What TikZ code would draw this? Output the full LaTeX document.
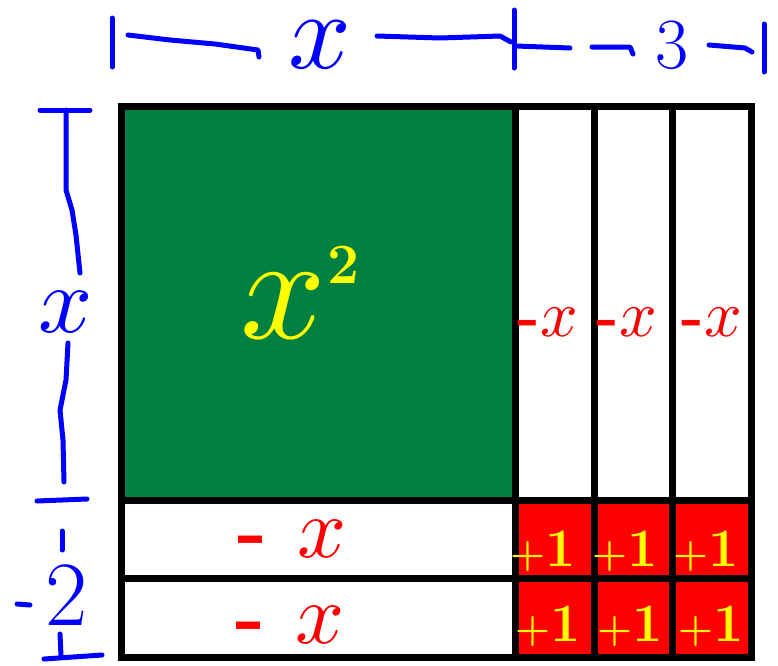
\documentclass[tikz,border=0pt]{standalone}
\usepackage{graphicx}
\definecolor{tilegreen}{RGB}{0,128,64}
\definecolor{tilered}{RGB}{255,0,0}
\definecolor{tileyellow}{RGB}{255,255,0}
\definecolor{penblue}{RGB}{0,0,255}
\newcommand{\fs}[1]{\fontsize{#1}{#1}\selectfont}
\newcommand{\bigx}[1]{\scalebox{#1}{$x$}}
\begin{document}
\begin{tikzpicture}[x=1pt,y=-1pt,
  cell/.style={draw=black, line width=7pt, inner sep=0pt, outer sep=0pt},
  hand/.style={draw=penblue, line width=5pt, line cap=round, line join=round},
  bluetxt/.style={text=penblue, inner sep=0pt, anchor=base},
  redtxt/.style={text=tilered, inner sep=0pt, anchor=base},
  yeltxt/.style={text=tileyellow, inner sep=0pt, anchor=base}]
\useasboundingbox (0,0) rectangle (778,665);
% tiles
\node[cell, fill=tilegreen, minimum width=394pt, minimum height=394pt] (sq) at (318,303) {};
\node[cell, fill=white, minimum width=79pt, minimum height=394pt] (c1) at (554.5,303) {};
\node[cell, fill=white, minimum width=78pt, minimum height=394pt] (c2) at (633,303) {};
\node[cell, fill=white, minimum width=79pt, minimum height=394pt] (c3) at (711.5,303) {};
\node[cell, fill=white, minimum width=394pt, minimum height=78pt] (r1) at (318,539) {};
\node[cell, fill=white, minimum width=394pt, minimum height=79pt] (r2) at (318,617.5) {};
\node[cell, fill=tilered, minimum width=79pt, minimum height=78pt] (u11) at (554.5,539) {};
\node[cell, fill=tilered, minimum width=78pt, minimum height=78pt] (u12) at (633,539) {};
\node[cell, fill=tilered, minimum width=79pt, minimum height=78pt] (u13) at (711.5,539) {};
\node[cell, fill=tilered, minimum width=79pt, minimum height=79pt] (u21) at (554.5,617.5) {};
\node[cell, fill=tilered, minimum width=78pt, minimum height=79pt] (u22) at (633,617.5) {};
\node[cell, fill=tilered, minimum width=79pt, minimum height=79pt] (u23) at (711.5,617.5) {};
% tile texts
\node[yeltxt] (tsq) at (300,338) {\bigx{15}\hspace{2pt}\raisebox{55pt}{\fs{57}\bfseries 2}};
\node[redtxt] (tc1) at (548,336) {{\fs{60}\bfseries -}\bigx{6.6}};
\node[redtxt] (tc2) at (627,336) {{\fs{60}\bfseries -}\bigx{6.6}};
\node[redtxt] (tc3) at (712,336) {{\fs{60}\bfseries -}\bigx{6.6}};
\node[redtxt] (tr1) at (292,557) {{\fs{80}\bfseries -}\hspace{30pt}\bigx{8.6}};
\node[redtxt] (tr2) at (290,643) {{\fs{80}\bfseries -}\hspace{30pt}\bigx{8.6}};
\node[yeltxt] (t11) at (543,566) {\fs{40}\bfseries +\fs{54}1};
\node[yeltxt] (t12) at (625,566) {\fs{40}\bfseries +\fs{54}1};
\node[yeltxt] (t13) at (706,566) {\fs{40}\bfseries +\fs{54}1};
\node[yeltxt] (t21) at (548,641) {\fs{40}\bfseries +\fs{54}1};
\node[yeltxt] (t22) at (630,641) {\fs{40}\bfseries +\fs{54}1};
\node[yeltxt] (t23) at (711,641) {\fs{40}\bfseries +\fs{54}1};
% top dimension
\node[bluetxt] (tx) at (320,68) {\bigx{11}};
\node[bluetxt] (t3) at (672,68) {\fs{72}3};
\draw[hand] (112,18) -- (112,67);
\draw[hand] (128,35) -- (170,40) -- (215,44) -- (258,50) -- (259,57);
\draw[hand] (377,36) -- (440,38) -- (500,36) -- (511,42);
\draw[hand] (514,10) -- (514,68);
\draw[hand] (516,46) -- (570,48);
\draw[hand] (592,47) -- (630,47) -- (633,54);
\draw[hand] (709,45) -- (745,48) -- (752,52);
\draw[hand] (764,24) -- (764,72);
% left dimension
\node[bluetxt] (lx) at (66,332) {\bigx{9.5}};
\node[bluetxt] (l2) at (67,625) {\fs{92}2};
\draw[hand] (40,110) -- (90,110);
\draw[hand] (66,110) -- (66,190) -- (72,210) -- (76,235) -- (80,273);
\draw[hand] (68,343) -- (66,380) -- (60,410) -- (63,440) -- (64,482);
\draw[hand] (37,501) -- (87,499);
\draw[hand] (62,531) -- (62,550);
\draw[hand] (17,604) -- (30,605);
\draw[hand] (60,634) -- (61,656);
\draw[hand] (44,659) -- (102,655);
\end{tikzpicture}
\end{document}
